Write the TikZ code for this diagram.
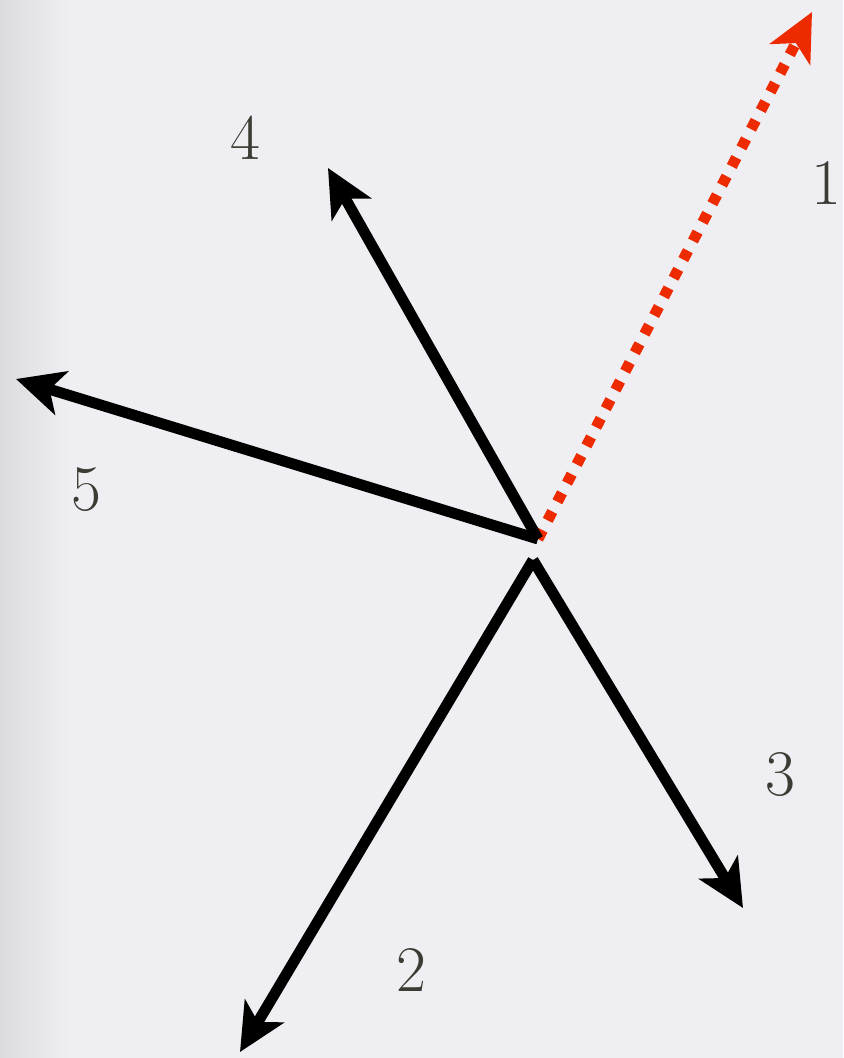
\documentclass[tikz,border=0pt]{standalone}
\usetikzlibrary{arrows.meta, positioning}
\definecolor{vecred}{HTML}{EE2A00}
\definecolor{labelgray}{HTML}{3C3C34}
\definecolor{paper}{HTML}{EFEFF3}
\definecolor{paperedge}{HTML}{DCDCE0}

\begin{document}
\begin{tikzpicture}[
    x=0.02cm, y=-0.02cm,
    vec/.style={-{Stealth[length=0.95cm, width=0.9cm, inset=0.25cm]}, line width=6.2pt, black},
    dotvec/.style={vec, vecred, dash pattern=on 0.2cm off 0.22cm},
    lbl/.style={font=\fontsize{37}{40}\selectfont, text=labelgray}
]
    % paper background, darker towards the left edge
    \useasboundingbox (0,0) rectangle (843,1058);
    \fill[paper] (0,0) rectangle (843,1058);
    \shade[left color=paperedge, right color=paper] (0,0) rectangle (70,1058);

    % tails of the vectors
    \coordinate (top) at (538,539);
    \coordinate (bot) at (533,560);

    % heads of the vectors
    \coordinate (h1) at (812,12);
    \coordinate (h2) at (240,1052);
    \coordinate (h3) at (743,908);
    \coordinate (h4) at (328,168);
    \coordinate (h5) at (16,379);

    % labels
    \node[lbl] (n1) at (826,183) {1};
    \node[lbl] (n2) at (411,970) {2};
    \node[lbl] (n3) at (780,775) {3};
    \node[lbl] (n4) at (245,138) {4};
    \node[lbl] (n5) at (86,490) {5};

    % vectors
    \draw[dotvec] (top) -- (h1);
    \foreach \h in {h4, h5}
        \draw[vec] (top) -- (\h);
    \foreach \h in {h2, h3}
        \draw[vec] (bot) -- (\h);
\end{tikzpicture}
\end{document}
